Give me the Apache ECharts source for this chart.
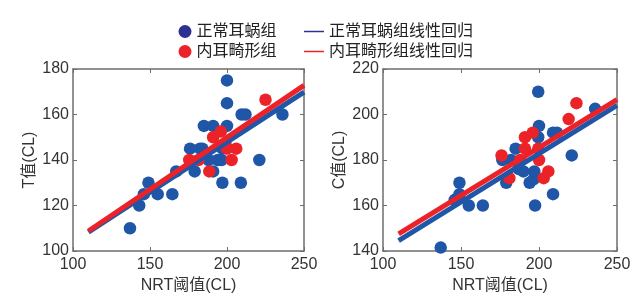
<!DOCTYPE html>
<html>
<head>
<meta charset="utf-8">
<script src="https://cdn.jsdelivr.net/npm/echarts@6/dist/echarts.min.js"></script>
<style>
  html, body { margin: 0; padding: 0; background: #fff; }
  #chart { width: 643px; height: 304px; }
</style>
</head>
<body>
<div id="chart"></div>
<script>
// NRT阈值 vs T值 (left) and C值 (right)
var normalT = [[137,110],[143,120],[146,125],[149,130],[155,125],[164.5,125],[167,135],[176,145],[179,135],[182.5,145],[184,145],[185,155],[188,140],[191,135],[191,155],[194,140],[196.5,140],[197,145],[197,130],[200,155],[200,165],[200,175],[209.5,160],[212,160],[209,130],[221,140],[236,160]];
var malformT = [[175.5,140],[181.5,140],[188.5,135],[191,150],[196,152.5],[199,147],[200,145],[206,145],[203,140],[225,166.5]];
var normalC = [[137,141.5],[146,162.5],[149,165],[149,170],[155,160],[164,160],[176.5,180],[179,170],[182,180],[185,185],[187,176],[190,175],[194,170],[196.5,171.5],[197,175],[197.5,160],[199.5,210],[200,195],[199.5,190],[209,192],[211.5,192],[209,165],[221,182],[236,202.5]];
var malformC = [[176,182],[181,172],[188,180],[191,185],[191,190],[196,192],[199.5,185],[200,180],[203,172],[206,175],[219,198],[224,205]];

// fitted lines, end points
var normalFitT = [[110,108.3],[250,169.8]];
var malformFitT = [[110,108.8],[250,172.8]];
var normalFitC = [[110,144.6],[250,204]];
var malformFitC = [[110,147.5],[250,206.5]];

var names = ['正常耳蜗组', '内耳畸形组', '正常耳蜗组线性回归', '内耳畸形组线性回归'];

var blue = '#1f56a8', red = '#ec2229', navy = '#2e3192';
var font = '"Liberation Sans", Arial, "Noto Sans CJK SC", sans-serif';
var axisColor = '#6e6e6e';

function xAx(grid, bottom) {
    return {
        type: 'value', gridIndex: grid, min: 100, max: 250, interval: 50,
        position: bottom ? 'bottom' : 'top',
        name: bottom ? 'NRT阈值(CL)' : '', nameLocation: 'middle', nameGap: 26,
        nameTextStyle: { fontFamily: font, fontSize: 16, color: '#333' },
        axisLine: { show: true, lineStyle: { color: axisColor, width: 1.5 } },
        axisTick: { show: true, inside: true, length: 4, lineStyle: { color: axisColor } },
        axisLabel: { show: bottom, margin: 6, fontFamily: font, fontSize: 16, color: '#333' },
        splitLine: { show: false }
    };
}
function yAx(grid, left, min, max, name) {
    return {
        type: 'value', gridIndex: grid, min: min, max: max, interval: 20,
        position: left ? 'left' : 'right',
        name: left ? name : '', nameLocation: 'middle', nameGap: 35,
        nameTextStyle: { fontFamily: font, fontSize: 16, color: '#333' },
        axisLine: { show: true, lineStyle: { color: axisColor, width: 1.5 } },
        axisTick: { show: true, inside: true, length: 4, lineStyle: { color: axisColor } },
        axisLabel: { show: left, margin: 4, fontFamily: font, fontSize: 16, color: '#333' },
        splitLine: { show: false }
    };
}
function dots(name, data, color, xi, yi) {
    return { name: name, type: 'scatter', xAxisIndex: xi, yAxisIndex: yi, data: data,
             symbolSize: 12.5, itemStyle: { color: color, opacity: 1 } };
}
function fit(name, data, color, xi, yi) {
    return { name: name, type: 'line', xAxisIndex: xi, yAxisIndex: yi, data: data,
             showSymbol: false, symbol: 'none', lineStyle: { color: color, width: 5 },
             itemStyle: { color: color } };
}

var option = {
    animation: false,
    backgroundColor: '#fff',
    legend: [{
        orient: 'vertical', left: 173.5, top: 17.5, itemGap: 2,
        itemWidth: 13, itemHeight: 13, icon: 'circle',
        textStyle: { fontFamily: font, fontSize: 16, color: '#222', lineHeight: 18 },
        data: [
            { name: names[0], itemStyle: { color: navy } },
            { name: names[1], itemStyle: { color: red } }
        ]
    }, {
        orient: 'vertical', left: 299, top: 17.5, itemGap: 2,
        itemWidth: 20, itemHeight: 1.5, icon: 'rect',
        textStyle: { fontFamily: font, fontSize: 16, color: '#222', lineHeight: 18 },
        data: [
            { name: names[2], itemStyle: { color: navy } },
            { name: names[3], itemStyle: { color: red } }
        ]
    }],
    grid: [
        { left: 73, right: 339, top: 69, height: 182 },
        { left: 383, right: 26, top: 69, height: 182 }
    ],
    xAxis: [xAx(0, true), xAx(0, false), xAx(1, true), xAx(1, false)],
    yAxis: [yAx(0, true, 100, 180, 'T值(CL)'), yAx(0, false, 100, 180),
            yAx(1, true, 140, 220, 'C值(CL)'), yAx(1, false, 140, 220)],
    series: [
        dots(names[0], normalT, blue, 0, 0),
        dots(names[1], malformT, red, 0, 0),
        fit(names[2], normalFitT, blue, 0, 0),
        fit(names[3], malformFitT, red, 0, 0),
        dots(names[0], normalC, blue, 2, 2),
        dots(names[1], malformC, red, 2, 2),
        fit(names[2], normalFitC, blue, 2, 2),
        fit(names[3], malformFitC, red, 2, 2)
    ]
};

echarts.init(document.getElementById('chart')).setOption(option);
</script>
</body>
</html>
